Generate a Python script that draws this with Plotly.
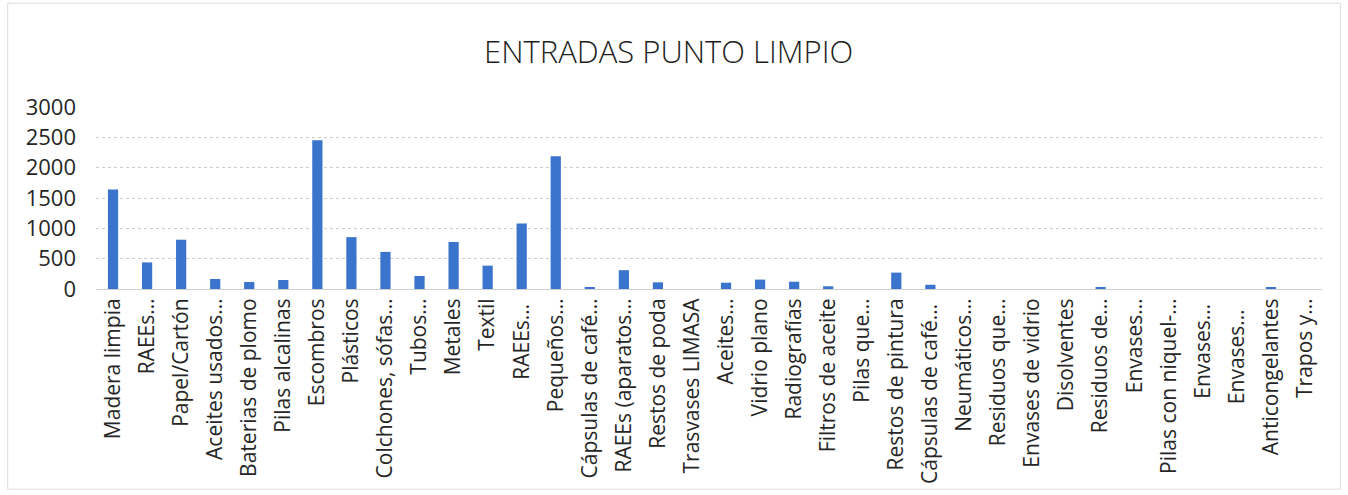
import plotly.graph_objects as go

# Waste categories received at the recycling point
categories = [
    "Madera limpia", "RAEEs…", "Papel/Cartón", "Aceites usados…",
    "Baterias de plomo", "Pilas alcalinas", "Escombros", "Plásticos",
    "Colchones, sófas…", "Tubos…", "Metales", "Textil", "RAEEs… ",
    "Pequeños…", "Cápsulas de café…", "RAEEs (aparatos…", "Restos de poda",
    "Trasvases LIMASA", "Aceites…", "Vidrio plano", "Radiografías",
    "Filtros de aceite", "Pilas que…", "Restos de pintura",
    "Cápsulas de café… ", "Neumáticos…", "Residuos que…", "Envases de vidrio",
    "Disolventes", "Residuos de…", "Envases…", "Pilas con niquel-…",
    "Envases… ", "Envases…  ", "Anticongelantes", "Trapos y…",
]

# Quantities received per category
values = [
    1640, 438, 812, 165,
    115, 148, 2450, 855,
    612, 215, 775, 385, 1080,
    2190, 30, 310, 110,
    0, 104, 155, 120,
    45, 0, 270,
    70, 0, 0, 0,
    0, 20, 0, 0,
    0, 0, 25, 0,
]

y_ticks = [0, 500, 1000, 1500, 2000, 2500, 3000]

BAR_COLOR = "#3a74cc"
FONT = "Open Sans"
TEXT_COLOR = "#262626"

fig = go.Figure(
    go.Bar(
        x=categories,
        y=values,
        marker=dict(color=BAR_COLOR, line=dict(width=0)),
        width=0.3,
    )
)

fig.update_layout(
    width=1348,
    height=495,
    margin=dict(l=96, r=26, t=107, b=206),
    paper_bgcolor="white",
    plot_bgcolor="white",
    showlegend=False,
    title=dict(
        text="ENTRADAS PUNTO LIMPIO",
        x=0.496,
        xanchor="center",
        y=0.895,
        yanchor="middle",
        font=dict(family=FONT, size=31, color="#1e1e1e", weight=300),
    ),
    font=dict(family=FONT, color=TEXT_COLOR),
    bargap=0.7,
)

fig.update_xaxes(
    type="category",
    tickangle=-90,
    tickfont=dict(size=21, color=TEXT_COLOR),
    showgrid=False,
    showline=True,
    linecolor="#cfcfcf",
    linewidth=1,
    ticks="",
)

fig.update_yaxes(
    range=[0, 3000],
    tickvals=y_ticks,
    tickfont=dict(size=22, color=TEXT_COLOR),
    showgrid=True,
    gridcolor="#cccccc",
    griddash="dot",
    gridwidth=1,
    zeroline=False,
    showline=False,
    ticks="",
    ticklabelstandoff=19,
)

# Faint frame around the whole chart area
fig.add_shape(
    type="rect",
    xref="paper", yref="paper",
    x0=-0.072, x1=1.015, y0=-1.1, y1=1.57,
    line=dict(color="#dddddd", width=1),
    layer="below",
)

fig.write_html("out.html")
